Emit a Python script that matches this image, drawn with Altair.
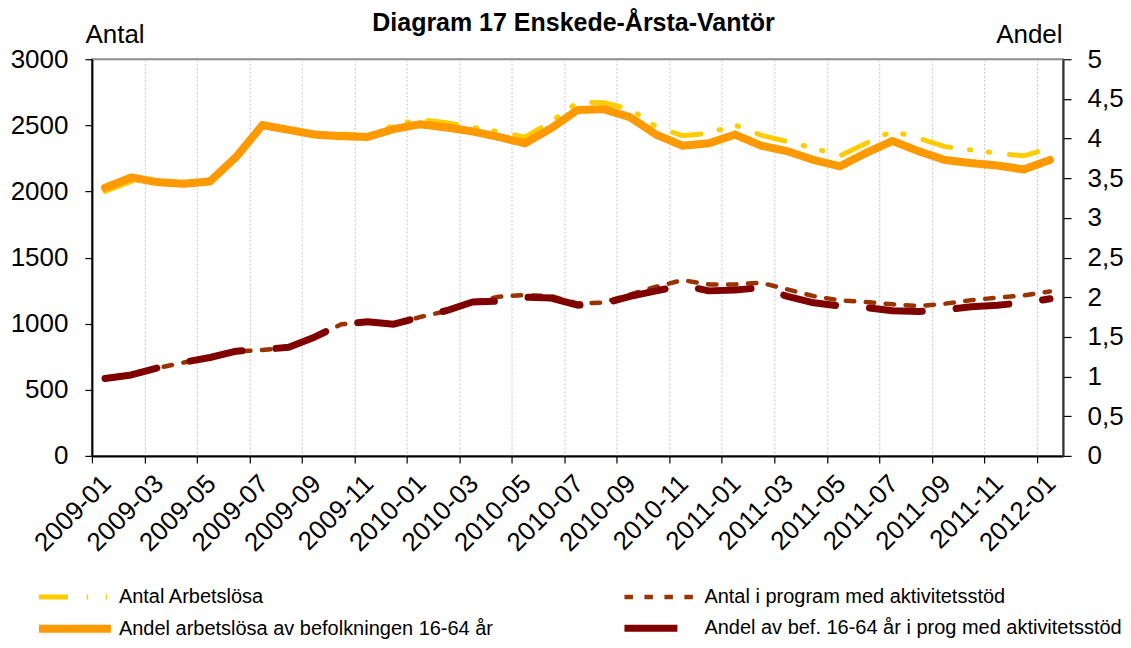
import json
import altair as alt
import pandas as pd

# ---------------- data ----------------
months = [f"{y}-{m:02d}" for y in (2009, 2010, 2011) for m in range(1, 13)] + ["2012-01"]

antal_arbetslosa = [2000, 2075, 2070, 2058, 2076, 2260, 2490, 2460, 2440, 2435,
                    2420, 2500, 2545, 2520, 2485, 2452, 2410, 2528, 2674, 2671,
                    2623, 2490, 2422, 2440, 2503, 2425, 2377, 2327, 2269, 2365,
                    2457, 2402, 2339, 2314, 2289, 2269, 2327]

antal_program = [586, 610, 665, 706, 744, 790, 801, 820, 900, 995,
                 1015, 995, 1050, 1095, 1164, 1204, 1216, 1208, 1153, 1160,
                 1221, 1279, 1329, 1297, 1297, 1309, 1259, 1208, 1176, 1163,
                 1146, 1133, 1151, 1178, 1196, 1214, 1244]

andel_arbetslosa = [3.38, 3.51, 3.45, 3.43, 3.46, 3.77, 4.17, 4.11, 4.05, 4.03,
                    4.02, 4.12, 4.18, 4.14, 4.09, 4.02, 3.94, 4.13, 4.36, 4.37,
                    4.27, 4.05, 3.91, 3.94, 4.05, 3.91, 3.84, 3.73, 3.65, 3.82,
                    3.97, 3.84, 3.73, 3.69, 3.66, 3.61, 3.73]

andel_program = [0.976, 1.02, 1.11, 1.18, 1.24, 1.32, 1.34, 1.37, 1.50, 1.66,
                 1.69, 1.66, 1.75, 1.83, 1.94, 1.95, 2.00, 1.99, 1.90, 1.92,
                 2.01, 2.08, 2.15, 2.08, 2.09, 2.12, 2.01, 1.93, 1.89, 1.87,
                 1.83, 1.82, 1.84, 1.88, 1.90, 1.93, 1.98]

S1 = "Antal Arbetslösa"
S2 = "Antal i program med aktivitetsstöd"
S3 = "Andel arbetslösa av befolkningen 16-64 år"
S4 = "Andel av bef. 16-64 år i prog med aktivitetsstöd"
series_names = [S1, S2, S3, S4]
series_colors = ["#FFCC00", "#993300", "#FF9900", "#800000"]
series_dashes = [[29, 18.75, 1.5, 17.5, 1.5, 19.75], [8.5, 11.5], [1, 0], [53, 34]]
series_widths = [5, 4.5, 8, 7]

left_ticks = [0, 500, 1000, 1500, 2000, 2500, 3000]
right_ticks = [0, 0.5, 1, 1.5, 2, 2.5, 3, 3.5, 4, 4.5, 5]
x_ticks = list(range(0, 37, 2))

rows = []
for i, m in enumerate(months):
    rows.append({"pos": i + 0.5, "month": m, "series": S1, "value": antal_arbetslosa[i], "side": "left"})
    rows.append({"pos": i + 0.5, "month": m, "series": S2, "value": antal_program[i], "side": "left"})
    rows.append({"pos": i + 0.5, "month": m, "series": S3, "value": andel_arbetslosa[i], "side": "right"})
    rows.append({"pos": i + 0.5, "month": m, "series": S4, "value": andel_program[i], "side": "right"})
df = pd.DataFrame(rows)

FONT = "Liberation Sans"
AX_FS = 26
label_expr = json.dumps(months) + "[round(datum.value)]"

x_enc = alt.X(
    "pos:Q",
    scale=alt.Scale(domain=[0, 37], nice=False, zero=False),
    axis=alt.Axis(
        values=x_ticks, labelExpr=label_expr, labelAngle=-45, labelAlign="right",
        labelBaseline="alphabetic", labelOffset=20, labelPadding=22,
        labelFontSize=AX_FS, labelFont=FONT, labelColor="black",
        labelOverlap=False, labelFlush=False,
        tickSize=7, tickColor="black", tickWidth=1.2,
        domainColor="black", domainWidth=2,
        grid=True, gridColor="#c4c4c4", gridDash=[2, 2], gridWidth=1,
        title=None,
    ),
)

legend_common = dict(title=None)

color_enc = alt.Color("series:N", scale=alt.Scale(domain=series_names, range=series_colors),
                      legend=alt.Legend(**legend_common))
dash_enc = alt.StrokeDash("series:N", scale=alt.Scale(domain=series_names, range=series_dashes),
                          legend=alt.Legend(**legend_common))
width_enc = alt.StrokeWidth("series:N", scale=alt.Scale(domain=series_names, range=series_widths, type="ordinal"),
                            legend=alt.Legend(**legend_common))

base = alt.Chart(df)

left = base.transform_filter(alt.datum.side == "left").mark_line(
    strokeCap="round", strokeJoin="round"
).encode(
    x=x_enc,
    y=alt.Y(
        "value:Q",
        scale=alt.Scale(domain=[0, 3000], nice=False),
        axis=alt.Axis(
            orient="left", values=left_ticks, format="d", labelFontSize=AX_FS, labelFont=FONT,
            labelColor="black", labelPadding=17, labelOverlap=False, labelFlush=False,
            tickSize=7, tickColor="black", tickWidth=1.2,
            domainColor="black", domainWidth=2, grid=False,
            title="Antal", titleAngle=0, titleAlign="left", titleBaseline="alphabetic",
            titleX=-7, titleY=-17, titleFontSize=AX_FS, titleFont=FONT,
            titleFontWeight="normal", titleColor="black",
        ),
    ),
    color=color_enc,
    strokeDash=dash_enc,
    strokeWidth=width_enc,
)

right = base.transform_filter(alt.datum.side == "right").mark_line(
    strokeCap="round", strokeJoin="round"
).encode(
    x=x_enc,
    y=alt.Y(
        "value:Q",
        scale=alt.Scale(domain=[0, 5], nice=False),
        axis=alt.Axis(
            orient="right", values=right_ticks,
            labelExpr="replace(datum.value + '', '.', ',')",
            labelFontSize=AX_FS, labelFont=FONT, labelColor="black", labelPadding=16,
            labelOverlap=False, labelFlush=False,
            tickSize=8, tickColor="black", tickWidth=1.2,
            domainColor="#333333", domainWidth=2, grid=False,
            title="Andel", titleAngle=0, titleAlign="right", titleBaseline="alphabetic",
            titleX=-1, titleY=-17, titleFontSize=AX_FS, titleFont=FONT,
            titleFontWeight="normal", titleColor="black",
        ),
    ),
    color=color_enc,
    strokeDash=dash_enc,
    strokeWidth=width_enc,
)

chart = alt.layer(left, right).resolve_scale(y="independent").properties(
    width=972,
    height=397,
    autosize=alt.AutoSizeParams(type="none"),
    padding={"left": 84, "top": 51, "right": 60, "bottom": 184},
    title=alt.TitleParams(
        text="Diagram 17 Enskede-Årsta-Vantör", fontSize=25, fontWeight="bold",
        font=FONT, color="black", anchor="middle", frame="group",
        baseline="alphabetic", offset=0, dy=35, dx=-4,
    ),
).configure_view(
    stroke="#8c8c8c", strokeWidth=2
).configure_legend(
    orient="none", legendX=-33, legendY=520, columns=2, direction="horizontal",
    symbolType="M-3,0H3", symbolSize=576, labelFontSize=20, labelFont=FONT,
    labelColor="black", labelLimit=700, columnPadding=73, rowPadding=2,
    labelOffset=28, padding=0, symbolOpacity=1, gridAlign="all",
)

chart.save("out.html", embed_options={"renderer": "svg", "actions": False})
